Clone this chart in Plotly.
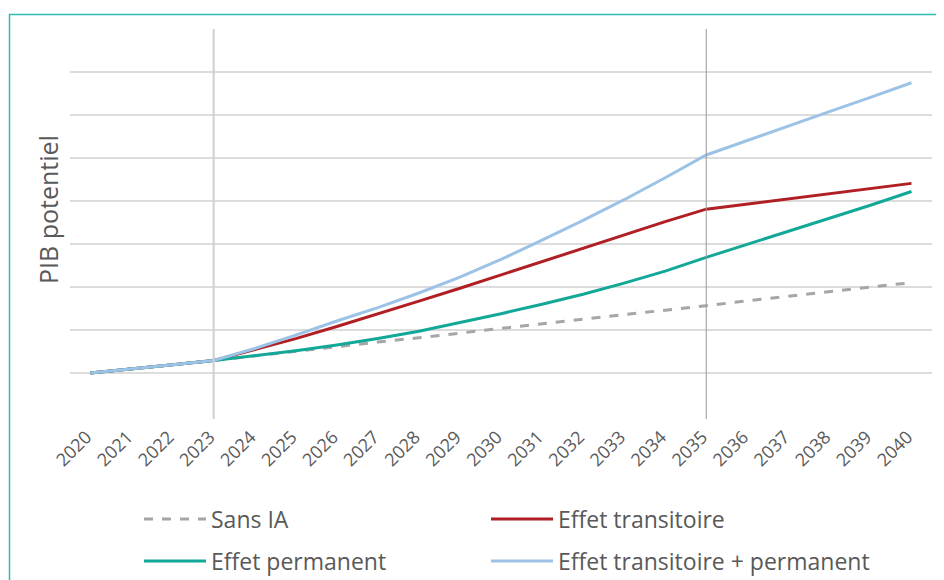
import plotly.graph_objects as go

years = [str(y) for y in range(2020, 2041)]

sans_ia = [1.00, 1.09, 1.19, 1.29, 1.40, 1.50, 1.61, 1.72, 1.82, 1.93, 2.04,
           2.14, 2.25, 2.36, 2.46, 2.57, 2.68, 2.78, 2.89, 3.00, 3.10]
effet_transitoire = [1.00, 1.09, 1.19, 1.29, 1.55, 1.80, 2.08, 2.37, 2.67, 2.97, 3.28,
                     3.59, 3.91, 4.22, 4.52, 4.81, 4.93, 5.05, 5.17, 5.29, 5.41]
effet_permanent = [1.00, 1.09, 1.19, 1.29, 1.40, 1.52, 1.65, 1.80, 1.97, 2.17, 2.38,
                   2.60, 2.83, 3.09, 3.37, 3.69, 3.99, 4.29, 4.59, 4.90, 5.22]
effet_total = [1.00, 1.09, 1.19, 1.29, 1.57, 1.88, 2.21, 2.52, 2.86, 3.23, 3.64,
               4.09, 4.55, 5.03, 5.54, 6.07, 6.41, 6.74, 7.08, 7.41, 7.75]

marker_years = ["2023", "2035"]

FONT = "'Open Sans', sans-serif"
TXT = "#595959"

fig = go.Figure()
fig.add_trace(go.Scatter(x=years, y=sans_ia, name="Sans IA", mode="lines", legend="legend",
                         line=dict(color="#a6a6a6", width=3, dash="dash")))
fig.add_trace(go.Scatter(x=years, y=effet_transitoire, name="Effet transitoire", mode="lines",
                         legend="legend2", line=dict(color="#b01f24", width=3)))
fig.add_trace(go.Scatter(x=years, y=effet_permanent, name="Effet permanent", mode="lines",
                         legend="legend3", line=dict(color="#12a898", width=3)))
fig.add_trace(go.Scatter(x=years, y=effet_total, name="Effet transitoire + permanent", mode="lines",
                         legend="legend4", line=dict(color="#9cc3e6", width=3)))

# page offset (body margin) compensation
OFF = 8
L, T, W, H = 70 - OFF, 29 - OFF, 862, 387


def px(x):
    return (x - OFF - L) / W


def py(y):
    return (T + H - (y - OFF)) / H


# vertical reference lines
for yr, col, w in [(marker_years[0], "#cfcfcf", 2), (marker_years[1], "#9a9a9a", 1)]:
    i = years.index(yr)
    fig.add_shape(type="line", xref="x", yref="paper", x0=i, x1=i,
                  y0=py(419), y1=1, line=dict(color=col, width=w), layer="above")

# teal frame (top and left)
fig.add_shape(type="path", xref="paper", yref="paper",
              path=f"M {px(9.5)} {py(600)} L {px(9.5)} {py(14.5)} L {px(960)} {py(14.5)}",
              line=dict(color="#2dbdb0", width=1.5))

fig.add_annotation(text="PIB potentiel", xref="paper", yref="paper", x=px(48), y=py(210),
                   xanchor="center", yanchor="middle", textangle=-90, showarrow=False,
                   font=dict(size=25, color=TXT, family=FONT))

leg_common = dict(orientation="h", xanchor="left", yanchor="middle", itemwidth=62,
                  font=dict(size=23, color=TXT, family=FONT), bgcolor="rgba(0,0,0,0)")

fig.update_layout(
    width=944, height=580,
    margin=dict(l=L, r=944 - L - W, t=T, b=580 - T - H, autoexpand=False),
    plot_bgcolor="white", paper_bgcolor="white",
    font=dict(family=FONT, color=TXT),
    xaxis=dict(type="category", range=[-0.5, 20.5], showgrid=False, zeroline=False,
               showline=False, ticks="", tickangle=-45,
               ticklabelstandoff=6, ticklabelshift=-4,
               tickfont=dict(size=18, color=TXT, family=FONT)),
    yaxis=dict(range=[0, 9], dtick=1, showticklabels=False, showgrid=True,
               gridcolor="#dcdcdc", gridwidth=1.5, zeroline=False, showline=False),
    legend=dict(x=px(139), y=py(519), **leg_common),
    legend2=dict(x=px(486), y=py(519), **leg_common),
    legend3=dict(x=px(139), y=py(561), **leg_common),
    legend4=dict(x=px(486), y=py(561), **leg_common),
    showlegend=True,
)

fig.write_html("out.html")
